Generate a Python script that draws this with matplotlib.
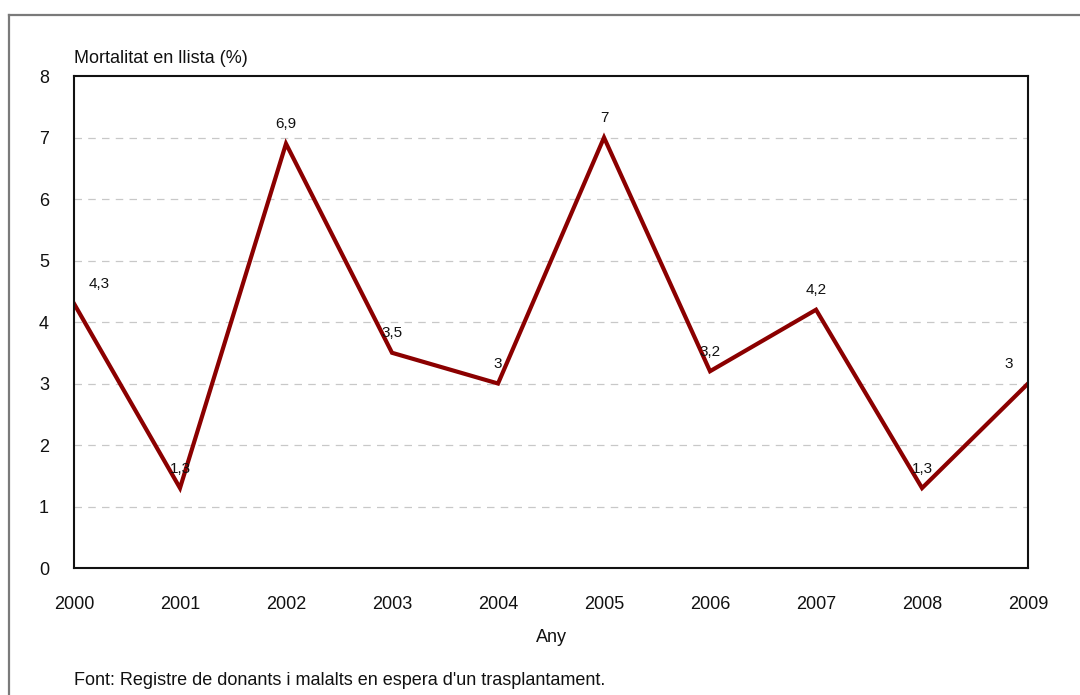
import matplotlib
matplotlib.use("Agg")
import matplotlib.pyplot as plt
from matplotlib.lines import Line2D

YEARS = [2000, 2001, 2002, 2003, 2004, 2005, 2006, 2007, 2008, 2009]
MORTALITY = [4.3, 1.3, 6.9, 3.5, 3.0, 7.0, 3.2, 4.2, 1.3, 3.0]
LABELS = ["4,3", "1,3", "6,9", "3,5", "3", "7", "3,2", "4,2", "1,3", "3"]

LINE_COLOR = "#8b0000"
FONT = ["Liberation Sans", "DejaVu Sans"]
FS = 13

plt.rcParams["font.family"] = FONT

fig = plt.figure(figsize=(10.8, 6.95), dpi=100)
ax = fig.add_axes([0.0685, 0.1827, 0.8834, 0.7079])

ax.plot(YEARS, MORTALITY, color=LINE_COLOR, linewidth=3.0, solid_joinstyle="miter")

for i, (x, y, lab) in enumerate(zip(YEARS, MORTALITY, LABELS)):
    dx = 0
    if i == 0:
        dx = 18
    elif i == len(YEARS) - 1:
        dx = -14
    ax.annotate(lab, (x, y), xytext=(dx, 9), textcoords="offset points",
                ha="center", va="bottom", fontsize=11, color="#111111")

ax.set_xlim(YEARS[0], YEARS[-1])
ax.set_ylim(0, 8)
ax.set_xticks(YEARS)
ax.set_yticks(range(0, 9))
ax.tick_params(axis="both", length=0, labelsize=FS, colors="#111111")
ax.tick_params(axis="x", pad=20)
ax.tick_params(axis="y", pad=18)

for yv in range(1, 8):
    ax.axhline(yv, color="#c8c8c8", linewidth=0.9, linestyle=(0, (6, 5)), zorder=0)

for s in ax.spines.values():
    s.set_color("#111111")
    s.set_linewidth(1.5)

ax.set_xlabel("Any", fontsize=FS, labelpad=12, color="#111111")
fig.text(0.0685, 0.903, "Mortalitat en llista (%)", fontsize=FS,
         ha="left", va="bottom", color="#111111")
fig.text(0.0685, 0.008, "Font: Registre de donants i malalts en espera d'un trasplantament.",
         fontsize=FS, ha="left", va="bottom", color="#111111")

# outer frame (top and left edges only)
fig.add_artist(Line2D([0.0083, 1.0], [0.978, 0.978], transform=fig.transFigure,
                      color="#7a7a7a", linewidth=1.6))
fig.add_artist(Line2D([0.0083, 0.0083], [0.0, 0.978], transform=fig.transFigure,
                      color="#7a7a7a", linewidth=1.6))

fig.savefig("out.png", dpi=100)
